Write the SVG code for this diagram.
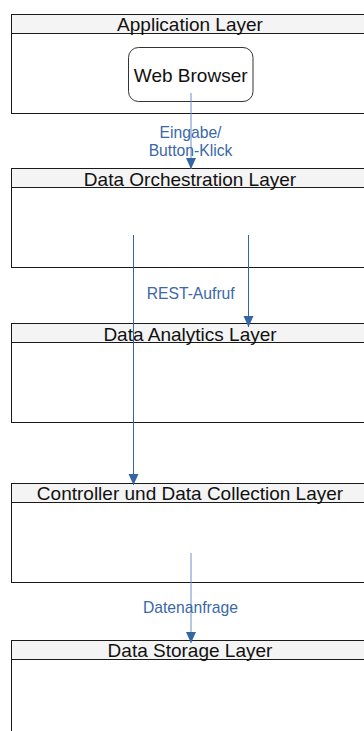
<svg xmlns="http://www.w3.org/2000/svg" width="364" height="731" viewBox="0 0 364 731">
<defs>
<style>
.body{fill:#ffffff;stroke:#1a1a1a;stroke-width:1}
.head{fill:#f4f4f4;stroke:#1a1a1a;stroke-width:1}
.ht{font-family:"Liberation Sans",Arial,sans-serif;font-size:19px;fill:#111111;text-anchor:middle}
.lbl{font-family:"Liberation Sans",Arial,sans-serif;font-size:15.7px;fill:#3a68a8;text-anchor:middle}
.conn{stroke:#3465a4;stroke-width:1;fill:none}
.conn.light{stroke:#6f90c4}
</style>
<marker id="ah" markerUnits="userSpaceOnUse" markerWidth="12" markerHeight="12" viewBox="0 0 12 12" refX="11" refY="6" orient="auto">
<path d="M0,1 L11,6 L0,11 Z" fill="#3465a4"/>
</marker>
</defs>
<g id="app-layer">
<rect class="body" x="11.5" y="14.5" width="357" height="99"/>
<rect class="head" x="11.5" y="14.5" width="357" height="19"/>
<text class="ht" x="190" y="31">Application Layer</text>
</g>
<g id="web-browser">
<rect x="128.5" y="47.5" width="124.5" height="54" rx="10" ry="10" fill="#ffffff" stroke="#333333" stroke-width="1"/>
<text class="ht" x="190.7" y="81.5">Web Browser</text>
</g>
<g id="orch-layer">
<rect class="body" x="11.5" y="168.5" width="357" height="99"/>
<rect class="head" x="11.5" y="168.5" width="357" height="19"/>
<text class="ht" x="190" y="185.5">Data Orchestration Layer</text>
</g>
<g id="analytics-layer">
<rect class="body" x="11.5" y="323.5" width="357" height="99"/>
<rect class="head" x="11.5" y="323.5" width="357" height="19"/>
<text class="ht" x="190" y="340.5">Data Analytics Layer</text>
</g>
<g id="controller-layer">
<rect class="body" x="11.5" y="483.5" width="357" height="99"/>
<rect class="head" x="11.5" y="483.5" width="357" height="19"/>
<text class="ht" x="190" y="500">Controller und Data Collection Layer</text>
</g>
<g id="storage-layer">
<rect class="body" x="11.5" y="640.5" width="357" height="110"/>
<rect class="head" x="11.5" y="640.5" width="357" height="19"/>
<text class="ht" x="190" y="656.5">Data Storage Layer</text>
</g>
<g id="connectors">
<line class="conn light" x1="191" y1="93" x2="191" y2="169" marker-end="url(#ah)"/>
<text class="lbl" x="190.5" y="138.3">Eingabe/</text>
<text class="lbl" x="190.5" y="155.7">Button-Klick</text>
<line class="conn" x1="248.5" y1="235" x2="248.5" y2="327" marker-end="url(#ah)"/>
<text class="lbl" x="190.7" y="299">REST-Aufruf</text>
<line class="conn" x1="133.5" y1="235" x2="133.5" y2="485" marker-end="url(#ah)"/>
<line class="conn light" x1="191" y1="553" x2="191" y2="643" marker-end="url(#ah)"/>
<text class="lbl" x="190.5" y="613.3">Datenanfrage</text>
</g>
</svg>
